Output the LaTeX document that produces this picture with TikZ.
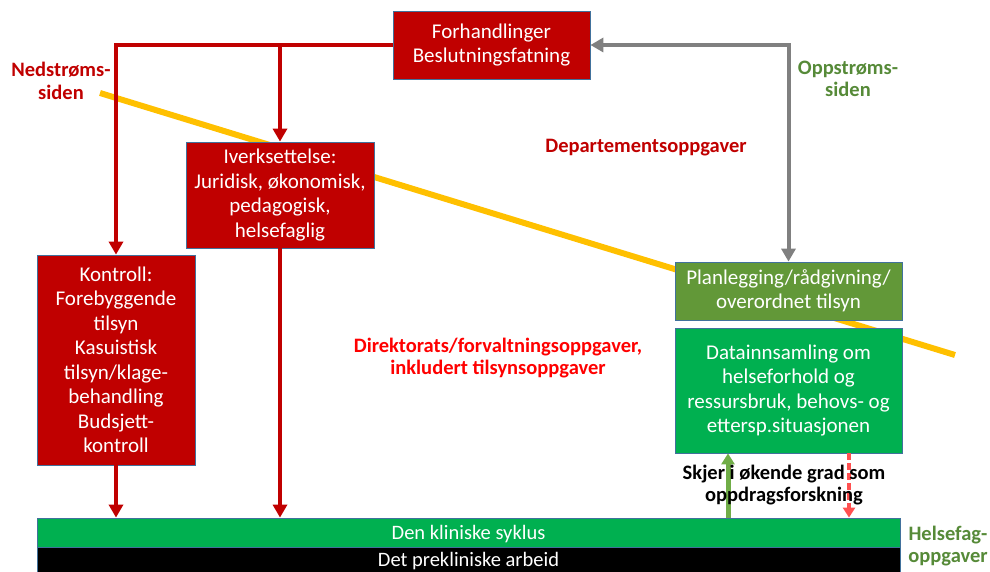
\documentclass[tikz,border=0pt]{standalone}
\usepackage{fontspec}
\setmainfont{Carlito}
\usetikzlibrary{arrows.meta}

\definecolor{dred}{RGB}{192,0,0}
\definecolor{edgeblue}{RGB}{65,113,156}
\definecolor{olive}{RGB}{98,152,56}
\definecolor{brightgreen}{RGB}{0,176,80}
\definecolor{labelgreen}{RGB}{86,138,56}
\definecolor{lightgreen}{RGB}{112,173,71}
\definecolor{lightred}{RGB}{255,80,80}
\definecolor{amber}{RGB}{255,192,0}
\definecolor{midgray}{RGB}{128,128,128}

\tikzset{
  box/.style={draw=edgeblue, line width=0.8pt, text=white, align=center,
    inner sep=0pt, font=\fontsize{21}{24.5}\selectfont},
  redbox/.style={box, fill=dred},
  bar/.style={draw=edgeblue, line width=0.8pt, text=white, inner sep=0pt,
    minimum width=863pt, text depth=0pt, font=\fontsize{20.5}{22}\selectfont},
  redline/.style={draw=dred, line width=4pt},
  redarrow/.style={redline, -{Triangle[width=14pt,length=13pt]}},
  tag/.style={font=\bfseries\fontsize{20.5}{22.5}\selectfont, align=center, inner sep=0pt},
}

\begin{document}
\begin{tikzpicture}[x=1pt,y=-1pt]
\useasboundingbox (0,0) rectangle (990,572);

% boundary between the two sides
\draw[amber, line width=6pt] (100,93) -- (955,355);

% boxes
\node[redbox, minimum width=197pt, minimum height=68pt] (forh) at (491.5,45)
  {Forhandlinger\\Beslutningsfatning};
\node[redbox, minimum width=188pt, minimum height=106pt] (iver) at (280,195)
  {Iverksettelse:\\Juridisk, økonomisk,\\pedagogisk,\\helsefaglig};
\node[redbox, minimum width=158pt, minimum height=210pt] (kontr) at (116,360)
  {Kontroll:\\Forebyggende\\tilsyn\\Kasuistisk\\tilsyn/klage-\\behandling\\Budsjett-\\kontroll};
\node[box, fill=olive, minimum width=227pt, minimum height=58pt] (plan) at (788.5,291)
  {Planlegging/rådgivning/\\overordnet tilsyn};
\node[box, fill=brightgreen, minimum width=227pt, minimum height=125pt] (data) at (788.5,390.5)
  {Datainnsamling om\\helseforhold og\\ressursbruk, behovs- og\\ettersp.situasjonen};

% bottom bars
\node[bar, fill=brightgreen, minimum height=29pt] (klin) at (468.5,532.5) {Den kliniske syklus};
\node[bar, fill=black, minimum height=25pt] (prek) at (468.5,559.5) {Det prekliniske arbeid};

% downstream connectors
\coordinate (branch) at (iver.north |- forh.west);
\draw[redarrow] (forh.west) -| (kontr.north);
\draw[redarrow] (branch) -- (iver.north);
\draw[redarrow] (iver.south) -- (iver.south |- klin.north);
\draw[redarrow] (kontr.south) -- (kontr.south |- klin.north);

% upstream connector
\draw[midgray, line width=4pt, {Triangle[width=14pt,length=13pt]}-{Triangle[width=14pt,length=13pt]}]
  (forh.east) -| (plan.north);

% research links
\coordinate (gx) at (728,0);
\coordinate (rx) at (849,0);
\draw[lightgreen, line width=5pt, -{Triangle[width=13pt,length=11pt]}]
  (gx |- klin.north) -- (gx |- data.south);
\draw[lightred, line width=3.5pt, dash pattern=on 7pt off 3pt, -{Triangle[width=12pt,length=10pt]}]
  (rx |- data.south) -- (rx |- klin.north);

% labels
\node[tag, text=dred] (ned) at (61,81) {Nedstrøms-\\siden};
\node[tag, text=labelgreen] (opp) at (848,79) {Oppstrøms-\\siden};
\node[tag, text=dred] (dep) at (646,148) {Departementsoppgaver};
\node[tag, text=red] (dir) at (498,358) {Direktorats/forvaltningsoppgaver,\\inkludert tilsynsoppgaver};
\node[tag, text=black] (skj) at (784,485) {Skjer i økende grad som\\oppdragsforskning};
\node[tag, text=labelgreen] (hf) at (948,546) {Helsefag-\\oppgaver};
\end{tikzpicture}
\end{document}
